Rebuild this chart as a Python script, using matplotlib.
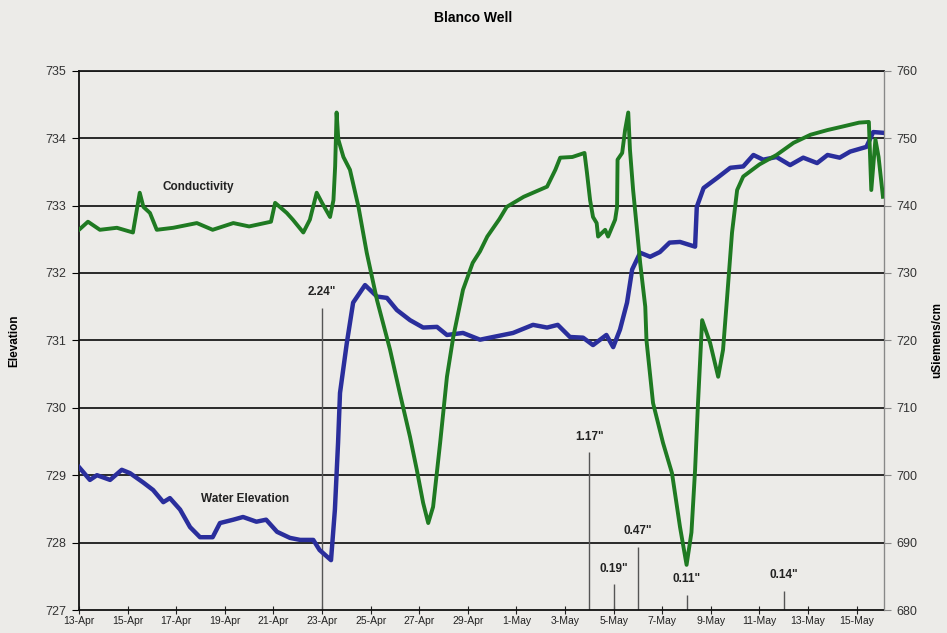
import numpy as np
import pandas as pd
import matplotlib
matplotlib.use("Agg")
import matplotlib.pyplot as plt
import matplotlib.dates as mdates
from matplotlib.ticker import FuncFormatter

plt.rcParams['font.family'] = ['Liberation Sans', 'DejaVu Sans']

# days after 13-Apr 00:00
start = pd.Timestamp('2004-04-13')

# water elevation (left axis, ft)
wl_day = [0, 0.45, 0.74, 1.28, 1.76, 2.1, 2.65, 3.05, 3.47, 3.74,
          4.16, 4.57, 4.98, 5.5, 5.8, 6.35, 6.75, 7.3, 7.7, 8.15,
          8.68, 9.1, 9.64, 9.9, 10.37, 10.53, 10.66, 10.74, 11.02, 11.28,
          11.77, 12.26, 12.67, 13.08, 13.62, 14.16, 14.73, 15.14, 15.8, 16.5,
          17.04, 17.86, 18.68, 19.26, 19.7, 20.2, 20.74, 21.15, 21.7, 21.98,
          22.26, 22.55, 22.76, 23.09, 23.5, 23.9, 24.3, 24.73, 25.35, 25.42,
          25.7, 26.26, 26.8, 27.33, 27.75, 28.15, 28.7, 29.26, 29.8, 30.37,
          30.8, 31.3, 31.73, 32.4, 32.68, 33.04]
wl_val = [729.12, 728.93, 729.0, 728.93, 729.08, 729.03, 728.89, 728.78, 728.6, 728.66,
          728.49, 728.23, 728.08, 728.08, 728.29, 728.34, 728.38, 728.31, 728.34, 728.16,
          728.07, 728.04, 728.04, 727.89, 727.74, 728.49, 729.48, 730.22, 730.96, 731.56,
          731.82, 731.65, 731.63, 731.45, 731.3, 731.19, 731.2, 731.08, 731.11, 731.01,
          731.05, 731.11, 731.23, 731.19, 731.23, 731.05, 731.04, 730.93, 731.08, 730.9,
          731.16, 731.56, 732.05, 732.3, 732.24, 732.31, 732.45, 732.46, 732.39, 732.98,
          733.26, 733.41, 733.56, 733.58, 733.75, 733.68, 733.72, 733.6, 733.71, 733.63,
          733.75, 733.71, 733.8, 733.87, 734.09, 734.08]

# conductivity (right axis, uS/cm)
sc_day = [0.0, 0.37, 0.86, 1.56, 2.22, 2.5, 2.65, 2.92, 3.2, 3.88,
          4.85, 5.5, 6.35, 7.0, 7.9, 8.07, 8.55, 8.8, 9.23, 9.5,
          9.78, 10.0, 10.33, 10.47, 10.54, 10.6,
          10.67, 10.88, 11.15, 11.5, 11.84, 12.26, 12.8, 13.2, 13.62, 13.9,
          14.16, 14.37, 14.57, 14.86, 15.14, 15.4, 15.8, 16.2, 16.5, 16.8,
          17.3, 17.6, 18.3, 19.26, 19.6, 19.8, 20.3, 20.8,
          20.9, 21.03, 21.15, 21.3, 21.36, 21.65, 21.77, 22.06, 22.14, 22.16,
          22.35, 22.47, 22.6, 22.67, 22.8, 22.96, 23.09, 23.3, 23.35, 23.62,
          24.03, 24.4, 24.73, 25.0, 25.2, 25.35, 25.47, 25.64, 25.97, 26.3,
          26.5, 26.67, 26.87, 27.08, 27.33,
          28.0, 28.7, 29.4, 30.1, 30.8, 31.4, 32.1, 32.5, 32.6, 32.77,
          32.9, 33.08]
sc_val = [736.4, 737.6, 736.4, 736.7, 736.0, 741.9, 739.8, 738.9, 736.4, 736.7,
          737.4, 736.4, 737.4, 736.9, 737.6, 740.4, 738.9, 737.9, 736.0, 737.9,
          741.9, 740.4, 738.3, 740.8, 745.8, 753.8,
          749.8, 747.2, 745.3, 739.8, 733.0, 726.0, 718.6, 712.2, 705.7, 700.8,
          695.9, 692.9, 695.3, 704.8, 714.6, 720.5, 727.5, 731.5, 733.2, 735.4,
          738.0, 739.8, 741.3, 742.8, 745.3, 747.1, 747.2, 747.8,
          744.9, 740.8, 738.3, 737.4, 735.4, 736.4, 735.4, 737.9, 739.8, 746.8,
          747.8, 751.2, 753.8, 748.3, 742.3, 736.4, 731.5, 725.0, 720.0, 710.7,
          704.8, 700.3, 692.3, 686.7, 691.5, 700.8, 710.7, 723.0, 719.6, 714.6,
          718.6, 726.5, 736.0, 742.3, 744.3,
          746.1, 747.5, 749.3, 750.5, 751.2, 751.7, 752.3, 752.4, 742.3, 749.8,
          747.2, 741.3]

# rainfall events (inches), drawn on the elevation axis as 727 + 2*rain
rain_day = [10, 21, 22, 23, 25, 29]
rain_in = [2.24, 1.17, 0.19, 0.47, 0.11, 0.14]

def to_dates(days):
    return start + pd.to_timedelta(np.array(days), unit='D')

bg = '#ecebe8'
fig = plt.figure(figsize=(9.47, 6.33), dpi=100, facecolor=bg)
ax = fig.add_axes([0.0834, 0.0363, 0.85, 0.852])
ax.set_facecolor(bg)
ax2 = ax.twinx()

ax.set_ylim(727, 735)
ax.set_yticks(range(727, 736))
ax2.set_ylim(680, 760)
ax2.set_yticks(range(680, 761, 10))
ax.set_xlim(start, start + pd.Timedelta(days=33.12))

for y in range(728, 736):
    ax.axhline(y, color='#1a1a1a', lw=1.3, zorder=1)

# rain bars
rd = to_dates(rain_day)
ax.vlines(rd, 727, [727 + 2 * r for r in rain_in], color='#555555', lw=1.0, zorder=2)
for d, r in zip(rd, rain_in):
    ax.annotate(f'{r:.2f}"', (d, 727 + 2 * r), xytext=(0, 7), textcoords='offset points',
                ha='center', va='bottom', fontsize=8.5, fontweight='bold', color='#222222')

ax.plot(to_dates(wl_day), wl_val, color='#2a2e9c', lw=3.2, zorder=4)
ax2.plot(to_dates(sc_day), sc_val, color='#1f7a22', lw=2.8, zorder=4)

ax.text(start + pd.Timedelta(days=4.9), 733.28, 'Conductivity', ha='center', va='center',
        fontsize=8.5, fontweight='bold', color='#222222', zorder=5)
ax.text(start + pd.Timedelta(days=6.83), 728.65, 'Water Elevation', ha='center', va='center',
        fontsize=8.5, fontweight='bold', color='#222222', zorder=5)

xt = pd.date_range(start, periods=17, freq='2D')
ax.set_xticks(xt)
ax.xaxis.set_major_formatter(FuncFormatter(lambda v, p: f"{mdates.num2date(v).day}-{mdates.num2date(v):%b}"))
ax.tick_params(axis='x', direction='inout', length=6, labelsize=7.5, colors='#222222', pad=1)
ax.tick_params(axis='y', direction='out', length=5, labelsize=9, labelcolor='#333333', pad=4)
ax2.tick_params(axis='y', direction='out', length=5, labelsize=9, labelcolor='#333333', pad=4,
                color='#888888')

for s in ['top']:
    ax.spines[s].set_visible(False)
    ax2.spines[s].set_visible(False)
ax.spines['left'].set_color('#111111')
ax.spines['left'].set_linewidth(1.3)
ax.spines['bottom'].set_color('#111111')
ax.spines['bottom'].set_linewidth(1.3)
ax2.spines['right'].set_color('#888888')
ax2.spines['left'].set_visible(False)
ax2.spines['bottom'].set_visible(False)
ax.axhline(735, color='#1a1a1a', lw=1.3, zorder=1, clip_on=False)

ax.set_ylabel('Elevation', fontsize=8.5, fontweight='bold', labelpad=18)
ax2.set_ylabel('uSiemens/cm', fontsize=8.5, fontweight='bold', labelpad=10)
fig.text(0.5, 0.972, 'Blanco Well', ha='center', va='center', fontsize=10, fontweight='bold')

fig.savefig('out.png', dpi=100, facecolor=bg)
